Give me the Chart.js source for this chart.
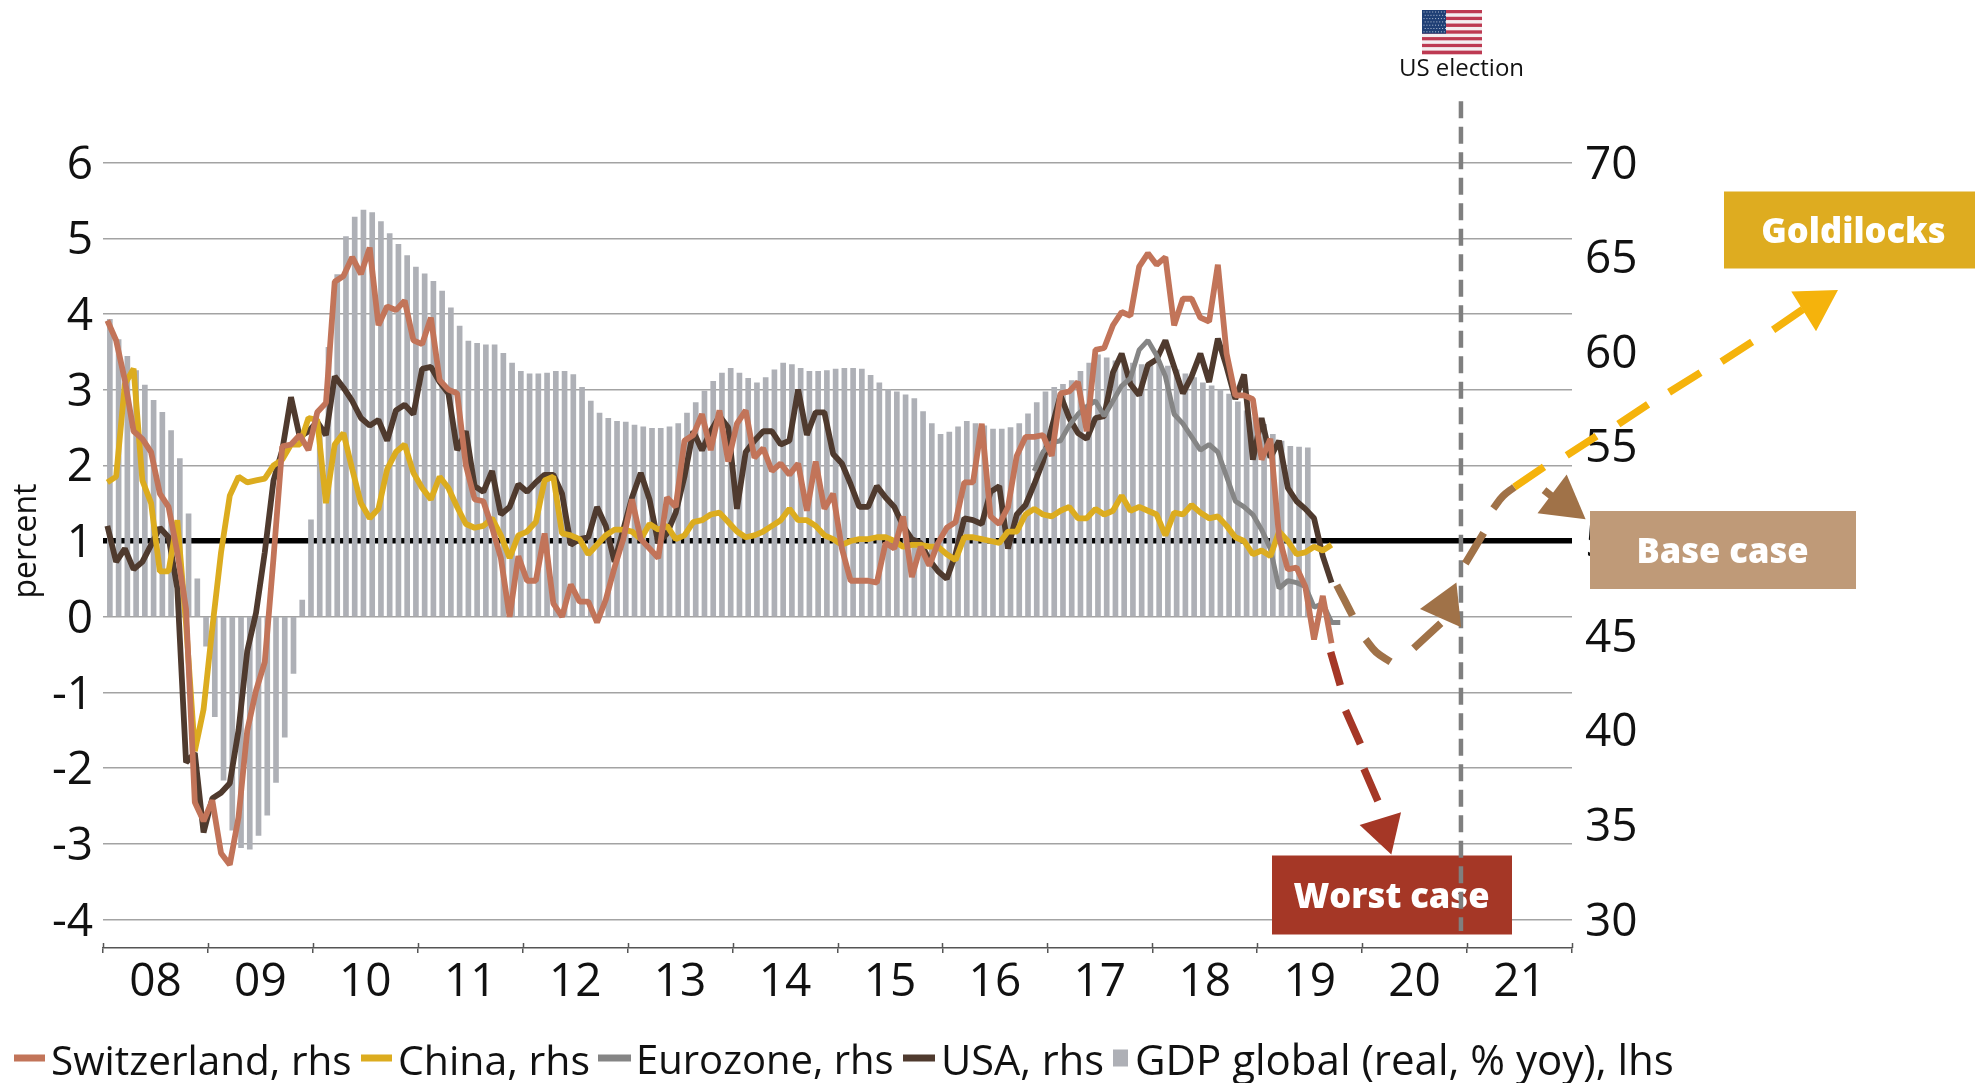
<!DOCTYPE html>
<html>
<head>
<meta charset="utf-8">
<style>html,body{margin:0;padding:0;background:#fff}canvas{display:block}</style>
<script src="https://cdn.jsdelivr.net/npm/chart.js@4"></script>
</head>
<body>
<canvas id="c" width="1975" height="1083"></canvas>
<script>
const years = ['08','09','10','11','12','13','14','15','16','17','18','19','20','21'];
const leftTicks = [-4,-3,-2,-1,0,1,2,3,4,5,6];
const rightTicks = [30,35,40,45,50,55,60,65,70];

const gdpGlobal = [3.93,3.66,3.44,3.25,3.06,2.86,2.70,2.46,2.09,1.36,
0.50,-0.39,-1.32,-2.16,-2.82,-3.05,-3.07,-2.89,-2.62,-2.19,
-1.59,-0.75,0.22,1.28,2.50,3.56,4.52,5.02,5.28,5.37,
5.34,5.22,5.06,4.92,4.77,4.62,4.53,4.43,4.30,4.08,
3.84,3.64,3.61,3.59,3.59,3.48,3.35,3.24,3.21,3.21,
3.22,3.24,3.24,3.20,3.03,2.85,2.69,2.62,2.58,2.57,
2.53,2.51,2.49,2.49,2.51,2.55,2.69,2.83,2.98,3.11,
3.22,3.28,3.22,3.15,3.09,3.16,3.26,3.35,3.33,3.28,
3.24,3.24,3.25,3.27,3.28,3.28,3.27,3.19,3.09,3.00,
2.97,2.93,2.88,2.71,2.55,2.41,2.44,2.51,2.58,2.55,
2.52,2.48,2.48,2.50,2.55,2.68,2.83,2.97,3.03,3.07,
3.12,3.24,3.35,3.46,3.42,3.38,3.36,3.35,3.33,3.36,
3.35,3.31,3.26,3.21,3.16,3.09,3.05,3.00,2.94,2.84,
2.72,2.63,2.54,2.41,2.32,2.25,2.24,2.23];

const switzerland = [61.65,60.6,58.5,55.8,55.4,54.7,52.5,51.8,49.4,46.4,
36.2,35.2,36.3,33.5,32.9,35.4,40.0,42.1,43.6,49.1,
55.0,55.1,55.6,54.8,56.8,57.3,63.7,64.0,65.0,64.1,
65.5,61.4,62.4,62.2,62.7,60.6,60.4,61.8,58.5,58.0,
57.8,54.0,52.2,52.1,50.7,49.1,46.0,49.2,47.9,47.9,
50.4,46.7,46.0,47.7,46.8,46.8,45.7,46.9,48.6,50.1,
52.2,50.1,49.6,49.1,52.3,51.8,55.3,55.6,56.7,54.8,
56.9,54.2,56.2,56.9,54.4,54.9,53.7,54.1,53.5,54.1,
51.6,54.2,51.7,52.5,49.6,47.9,47.9,47.9,47.8,49.9,
49.6,51.3,48.1,49.7,48.7,49.9,50.7,51.0,53.1,53.1,
56.2,51.3,50.9,51.8,54.5,55.5,55.5,55.6,54.5,57.8,
57.9,58.4,55.8,60.1,60.2,61.4,62.1,61.9,64.5,65.2,
64.6,65.0,61.4,62.8,62.8,61.8,61.6,64.6,59.9,57.7,
57.7,57.5,54.3,55.4,50.2,48.5,48.6,47.6,44.8,47.1,
44.6];

const china = [53.1,53.4,58.3,59.1,53.2,52.0,48.4,48.4,51.1,45.6,
38.9,41.1,45.4,49.4,52.4,53.4,53.1,53.2,53.3,54.0,
54.3,55.1,55.1,56.5,56.4,52.0,55.1,55.7,53.8,52.0,
51.2,51.7,53.8,54.7,55.1,53.6,52.8,52.2,53.4,52.8,
51.8,50.9,50.7,50.8,51.2,50.3,49.1,50.3,50.5,51.0,
53.2,53.4,50.4,50.3,50.1,49.3,49.8,50.3,50.6,50.6,
50.5,50.1,50.9,50.6,50.8,50.1,50.3,51.0,51.1,51.4,
51.5,51.0,50.5,50.2,50.3,50.5,50.8,51.1,51.7,51.1,
51.1,50.8,50.3,50.1,49.8,50.0,50.1,50.1,50.2,50.2,
50.0,49.7,49.8,49.8,49.7,49.7,49.3,49.0,50.2,50.2,
50.1,50.0,49.9,50.5,50.5,51.4,51.7,51.4,51.3,51.6,
51.8,51.2,51.2,51.7,51.4,51.6,52.4,51.6,51.8,51.6,
51.4,50.3,51.5,51.4,51.9,51.5,51.2,51.3,50.8,50.2,
50.0,49.3,49.5,49.2,50.5,50.0,49.3,49.4,49.7,49.5,
49.8];

const usa = [50.8,48.9,49.6,48.5,48.9,49.8,50.7,50.2,47.5,38.3,
38.8,34.6,36.4,36.7,37.2,40.0,44.2,46.2,49.4,53.2,
54.8,57.6,55.5,55.8,56.3,55.6,58.7,58.1,57.4,56.5,
56.1,56.4,55.3,56.9,57.2,56.7,59.1,59.2,58.4,57.8,
54.8,55.8,52.9,52.6,53.7,51.4,51.8,53.0,52.6,53.1,
53.5,53.5,52.5,49.8,50.1,50.2,51.8,50.8,48.9,50.6,
52.3,53.6,52.2,49.9,50.4,51.5,53.4,55.8,54.8,55.8,
56.6,56.0,51.7,54.7,55.3,55.8,55.8,55.1,55.3,58.0,
55.6,56.8,56.8,54.6,54.1,53.0,51.8,51.8,52.9,52.3,
51.8,50.8,50.1,49.9,49.0,48.4,48.0,49.3,51.2,51.1,
50.9,52.6,52.9,49.6,51.4,51.9,53.0,54.2,56.0,57.7,
56.5,55.7,55.4,56.5,56.6,58.9,59.9,58.3,57.7,59.3,
59.6,60.6,59.2,57.8,58.7,59.9,58.4,60.7,59.2,57.5,
58.8,54.3,56.5,54.4,55.3,52.8,52.1,51.7,51.2,49.2,
47.8];

const eurozoneFirstMonth = 106;
const eurozone = [53.7,54.7,55.2,55.3,56.1,56.7,57.1,57.4,56.6,57.4,
58.2,58.6,60.1,60.6,59.8,58.7,56.7,56.2,55.5,54.8,
55.1,54.7,53.4,52.1,51.8,51.4,50.6,49.6,47.5,47.9,
47.8,47.6,46.5,46.7,45.7,45.7];

// Scenario paths: x = months since Jan 2008, y = right-axis value; null splits a dash
const worstMonths = [139.9,141.0,null,141.6,143.3,null,143.7,145.3];
const worstValues = [44.14,42.38,null,41.05,39.27,null,37.97,36.26];
const worstHeadMonth = [146.0], worstHeadValue = [34.7];
const baseMonths = [140.6,141.5,142.4,null,143.9,145.1,146.75,null,149.4,152.5,null,155.3,157.4,null,158.5,159.6,160.9,null,164.3,165.6];
const baseValues = [47.67,46.87,46.06,null,44.80,44.13,43.62,null,44.33,45.66,null,48.81,50.43,null,51.72,52.37,52.85,null,52.69,52.21];
const baseMidHeadMonth = [153.07], baseMidHeadValue = [46.55];
const baseHeadMonth = [166.5], baseHeadValue = [52.04];
const goldMonths = [160.9,164.3,null,166.9,170.3,null,172.8,176.2,null,178.6,182.2,null,184.6,188.1,null,190.5,193.9];
const goldValues = [52.85,53.92,null,54.53,55.54,null,56.18,57.22,null,57.86,58.90,null,59.48,60.52,null,61.16,62.24];
const goldHeadMonth = [195.3], goldHeadValue = [62.51];
const electionMonths = [154.8,154.8];
const electionValues = [73.24,29.39];

const months = [];
years.forEach(y => { for (let m = 1; m <= 12; m++) months.push(y + '-' + m); });
const zip = (xs, ys) => xs.map((x, i) => ({x, y: ys[i]}));

const FONT = '"Open Sans","Noto Sans",sans-serif';
const COL = {sw:'#c27459', cn:'#dcac1f', ez:'#858585', us:'#4f3a2e', gdp:'#aeb0b6',
  worst:'#a53726', base:'#a07248', gold:'#f5b30c', goldBox:'#deac20', baseBox:'#bf9a78'};

function series(label, data, color, width) {
  return {type:'line', label, data, xAxisID:'x', yAxisID:'y1', borderColor:color, backgroundColor:color,
    borderWidth:width, pointRadius:0, tension:0, borderJoinStyle:'bevel', borderCapStyle:'butt', fill:false};
}
function path(xs, ys, color, width, dash, tension) {
  return {type:'line', data:zip(xs, ys), xAxisID:'xs', yAxisID:'y1', borderColor:color, borderWidth:width,
    borderDash:dash || [], pointRadius:0, tension:tension || 0, fill:false, clip:false, borderCapStyle:'butt'};
}
function head(xs, ys, color, radius, rotation) {
  return {type:'line', data:zip(xs, ys), xAxisID:'xs', yAxisID:'y1', showLine:false, pointStyle:'triangle',
    pointRadius:radius, pointRotation:rotation, pointBackgroundColor:color, pointBorderColor:color,
    pointBorderWidth:0, clip:false};
}

const legendItems = [
  {label:'Switzerland, rhs', color:COL.sw, w:31, h:7, x:14, tx:51, size:40.5},
  {label:'China, rhs', color:COL.cn, w:31, h:7, x:361, tx:398, size:41},
  {label:'Eurozone, rhs', color:COL.ez, w:33, h:7, x:598, tx:636, size:40},
  {label:'USA, rhs', color:COL.us, w:32, h:7, x:903, tx:941, size:41.5},
  {label:'GDP global (real, % yoy), lhs', color:COL.gdp, w:15, h:17, x:1113, tx:1135, size:42}
];

const scene = {
  id:'scene',
  beforeDatasetsDraw(chart) {
    const c = chart.ctx;
    c.save();
    [[1724,191.5,251,77,COL.goldBox,'Goldilocks',1853.5,233.5],
     [1590,511,266,78,COL.baseBox,'Base case',1722.5,553],
     [1272,855.5,240,79,COL.worst,'Worst case',1391.5,898]].forEach(b => {
      c.fillStyle = b[4];
      c.fillRect(b[0], b[1], b[2], b[3]);
      c.fillStyle = '#fff';
      c.font = '800 34.5px ' + FONT;
      c.textAlign = 'center';
      c.textBaseline = 'middle';
      c.fillText(b[5], b[6], b[7]);
    });
    c.restore();
  },
  afterDatasetsDraw(chart) {
    // the Goldilocks arrow head lies outside the axes' area, so it is drawn without the area test
    const far = {left:-1e4, right:1e4, top:-1e4, bottom:1e4};
    chart.getDatasetMeta(0).data.forEach(p => p.draw(chart.ctx, far));
  },
  afterDraw(chart) {
    const c = chart.ctx;
    c.save();
    // inner half of the year tick marks
    const s = chart.scales.xYear;
    c.strokeStyle = '#555'; c.lineWidth = 1.5;
    for (let i = 0; i <= years.length; i++) {
      const x = Math.round(s.left + (s.right - s.left) * i / years.length) + 0.5;
      c.beginPath(); c.moveTo(x, 943); c.lineTo(x, 948); c.stroke();
    }
    // flag
    const fx = 1422, fy = 10, fw = 60, fh = 44, sh = fh / 13;
    for (let i = 0; i < 13; i++) {
      c.fillStyle = i % 2 ? '#f4eef0' : '#bd3a52';
      c.fillRect(fx, fy + i * sh, fw, sh + 0.3);
    }
    c.fillStyle = '#1f3f75';
    c.fillRect(fx, fy, 24, sh * 7);
    c.fillStyle = '#b9c4d8';
    for (let r = 0; r < 7; r++) for (let k = 0; k < 8; k++)
      c.fillRect(fx + 1.5 + k * 2.9 + (r % 2) * 1.2, fy + 1.5 + r * 3.3, 1, 1);
    c.fillStyle = '#111';
    c.font = '24px ' + FONT;
    c.textAlign = 'center'; c.textBaseline = 'middle';
    c.fillText('US election', 1461.5, 69.5);
    // axis title
    c.save();
    c.translate(27, 541); c.rotate(-Math.PI / 2);
    c.font = '32px ' + FONT;
    c.fillText('percent', 0, 0);
    c.restore();
    // legend
    c.textAlign = 'left'; c.textBaseline = 'middle';
    legendItems.forEach(it => {
      c.fillStyle = it.color;
      c.fillRect(it.x, 1058 - it.h / 2, it.w, it.h);
      c.fillStyle = '#111';
      c.font = it.size + 'px ' + FONT;
      c.fillText(it.label, it.tx, 1063);
    });
    c.restore();
  }
};

new Chart(document.getElementById('c'), {
  data: {
    labels: months,
    datasets: [
      head(goldHeadMonth, goldHeadValue, COL.gold, 27, 58),
      path(goldMonths, goldValues, COL.gold, 7.5),
      head(baseHeadMonth, baseHeadValue, COL.base, 28, 127),
      head(baseMidHeadMonth, baseMidHeadValue, COL.base, 26, 264),
      path(baseMonths, baseValues, COL.base, 7.5, null, 0.4),
      head(worstHeadMonth, worstHeadValue, COL.worst, 25, 163),
      path(worstMonths, worstValues, COL.worst, 7.5),
      path(electionMonths, electionValues, '#7f7f7f', 4.5, [17, 8.5]),
      series('Switzerland, rhs', switzerland, COL.sw, 5.8),
      series('China, rhs', china, COL.cn, 5.8),
      series('Eurozone, rhs', Array(eurozoneFirstMonth).fill(null).concat(eurozone), COL.ez, 5),
      series('USA, rhs', usa, COL.us, 5.8),
      {type:'bar', label:'GDP global (real, % yoy), lhs', data:gdpGlobal, xAxisID:'x', yAxisID:'y',
       backgroundColor:COL.gdp, barThickness:5}
    ]
  },
  plugins:[scene],
  options: {
    responsive:false, animation:false, devicePixelRatio:1,
    layout:{padding:{top:162.5,left:0,right:0,bottom:0}},
    plugins:{legend:{display:false}, tooltip:{enabled:false}},
    scales: {
      x:{type:'category', display:false, offset:true},
      xs:{type:'linear', display:false, position:'bottom',
        afterBuildTicks(s){ s.min=-0.5; s.max=167.5; }},
      xYear:{type:'category', labels:years, position:'bottom', offset:true,
        afterFit(s){ s.height = 1083-948; },
        border:{display:true,color:'#555',width:1.5},
        grid:{offset:true, drawOnChartArea:false, drawTicks:true, tickLength:5, color:'#555', lineWidth:1.5},
        ticks:{autoSkip:false, maxRotation:0, padding:2.5, color:'#111', font:{family:FONT,size:46}}},
      y:{type:'linear', position:'left', min:-4.376, max:6,
        afterBuildTicks(s){ s.ticks = leftTicks.map(v=>({value:v})); },
        afterFit(s){ s.width = 103; },
        border:{display:false},
        grid:{drawTicks:false,
          color:c=>c.tick && c.tick.value===1 ? '#000' : '#a3a3a3',
          lineWidth:c=>c.tick && c.tick.value===1 ? 5.5 : 1.4},
        ticks:{padding:10, labelOffset:3, color:'#111', font:{family:FONT,size:46}}},
      y1:{type:'linear', position:'right', min:28.496, max:70,
        afterBuildTicks(s){ s.ticks = rightTicks.map(v=>({value:v})); },
        afterFit(s){ s.width = 1975-1572; },
        border:{display:false},
        grid:{display:false, drawTicks:false},
        ticks:{padding:13, labelOffset:3, color:'#111', font:{family:FONT,size:46}}}
    }
  }
});
</script>
</body>
</html>
